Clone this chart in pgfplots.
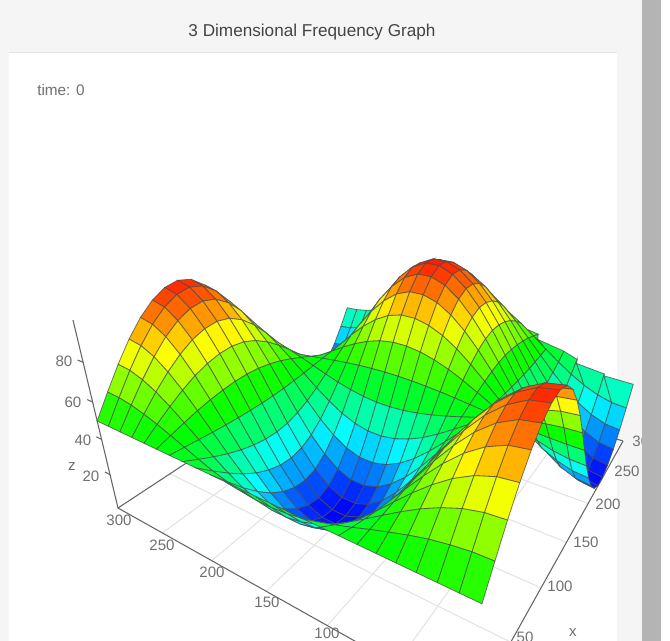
\documentclass[border=0pt]{standalone}
\usepackage{pgfplots}
\usepackage{pgfplotstable}
\usepackage{fontspec}
\setmainfont{Liberation Sans}
\pgfplotsset{compat=1.18}
\definecolor{bgc}{HTML}{F5F5F5}
\definecolor{borderc}{HTML}{E3E3E3}
\definecolor{titlec}{HTML}{444444}
\definecolor{labc}{HTML}{707070}
\definecolor{axc}{HTML}{666666}
\definecolor{gridc}{HTML}{E2E2E2}
\definecolor{barc}{HTML}{B4B4B4}
\tikzset{tl/.style={font=\fontsize{11.3pt}{13pt}\selectfont,text=labc,inner sep=0pt}}
\pgfplotsset{colormap={jetlike}{rgb255(0cm)=(0,0,255); rgb255(1cm)=(0,255,255); rgb255(2cm)=(0,255,0); rgb255(3cm)=(255,255,0); rgb255(4cm)=(255,0,0)}}
% camera: x/300, y/300, z/100 -> image pixels
\newcommand\pX[3]{((474+545.9*(#1)-308.8*(#2)-77.1*(#3))/(1+0.637*(#1)+0.40*(#2)-0.193*(#3)))}
\newcommand\pY[3]{((708+13.9*(#1)+3.2*(#2)-324.9*(#3))/(1+0.637*(#1)+0.40*(#2)-0.193*(#3)))}
\newcommand\seg[7]{\addplot[#1,forget plot] table[row sep=\\,
  x expr={\pX{\thisrow{x}/300}{\thisrow{y}/300}{\thisrow{z}/100}},
  y expr={\pY{\thisrow{x}/300}{\thisrow{y}/300}{\thisrow{z}/100}}]
  {x y z\\ #2 #3 #4\\ #5 #6 #7\\};}
% z on a 25 x 25 grid: rows y=300..0, within a row x=300..0
\pgfplotstableread[row sep=\\]{
z\\
37.0\\26.1\\16.4\\8.6\\3.2\\0.4\\0.4\\4.0\\11.0\\20.9\\32.9\\46.2\\59.8\\72.6\\83.8\\92.5\\98.0\\100.0\\98.9\\95.2\\89.3\\81.4\\71.9\\61.2\\50\\
37.5\\27.0\\17.6\\10.1\\4.9\\2.2\\2.2\\5.7\\12.4\\22.0\\33.5\\46.3\\59.4\\71.8\\82.5\\90.9\\96.2\\98.2\\97.1\\93.5\\87.8\\80.2\\71.1\\60.8\\50\\
38.9\\29.6\\21.3\\14.6\\10.0\\7.6\\7.6\\10.7\\16.7\\25.1\\35.4\\46.8\\58.4\\69.3\\78.9\\86.3\\91.0\\92.8\\91.8\\88.6\\83.6\\76.8\\68.7\\59.6\\50\\
41.1\\33.7\\27.1\\21.7\\18.0\\16.1\\16.1\\18.6\\23.4\\30.1\\38.3\\47.4\\56.7\\65.4\\73.1\\79.0\\82.8\\84.2\\83.4\\80.9\\76.8\\71.4\\65.0\\57.6\\50\\
44.0\\39.0\\34.5\\30.9\\28.4\\27.1\\27.1\\28.7\\32.0\\36.6\\42.1\\48.2\\54.5\\60.4\\65.6\\69.6\\72.2\\73.1\\72.6\\70.9\\68.2\\64.5\\60.1\\55.2\\50\\
47.3\\45.1\\43.1\\41.5\\40.4\\39.8\\39.8\\40.5\\42.0\\44.0\\46.5\\49.2\\52.0\\54.7\\57.0\\58.8\\59.9\\60.3\\60.1\\59.3\\58.1\\56.5\\54.5\\52.3\\50\\
50.9\\51.6\\52.2\\52.7\\53.1\\53.3\\53.3\\53.0\\52.6\\51.9\\51.1\\50.3\\49.4\\48.5\\47.8\\47.2\\46.8\\46.7\\46.8\\47.0\\47.4\\47.9\\48.6\\49.3\\50\\
54.4\\58.1\\61.4\\64.0\\65.9\\66.8\\66.8\\65.6\\63.2\\59.9\\55.8\\51.3\\46.7\\42.3\\38.5\\35.6\\33.7\\33.0\\33.4\\34.7\\36.7\\39.4\\42.6\\46.2\\50\\
57.6\\64.0\\69.7\\74.2\\77.4\\79.0\\79.0\\76.9\\72.8\\67.0\\60.0\\52.2\\44.3\\36.8\\30.2\\25.1\\21.9\\20.7\\21.4\\23.6\\27.0\\31.6\\37.2\\43.4\\50\\
60.2\\68.8\\76.5\\82.6\\86.9\\89.1\\89.1\\86.2\\80.7\\72.9\\63.5\\53.0\\42.3\\32.2\\23.4\\16.5\\12.2\\10.6\\11.5\\14.4\\19.0\\25.3\\32.7\\41.2\\50\\
62.1\\72.3\\81.3\\88.6\\93.7\\96.3\\96.3\\92.9\\86.4\\77.2\\66.0\\53.5\\40.9\\28.9\\18.5\\10.3\\5.2\\3.3\\4.4\\7.8\\13.3\\20.7\\29.6\\39.6\\50\\
63.1\\74.1\\83.9\\91.8\\97.3\\100.1\\100.1\\96.5\\89.4\\79.4\\67.3\\53.8\\40.1\\27.2\\15.9\\7.1\\1.5\\-0.5\\0.6\\4.3\\10.3\\18.3\\27.9\\38.7\\50\\
63.2\\74.2\\84.0\\91.9\\97.4\\100.2\\100.2\\96.6\\89.5\\79.5\\67.3\\53.8\\40.1\\27.1\\15.8\\6.9\\1.4\\-0.7\\0.5\\4.2\\10.2\\18.2\\27.8\\38.7\\50\\
62.4\\72.7\\81.9\\89.3\\94.5\\97.1\\97.1\\93.7\\87.1\\77.6\\66.2\\53.6\\40.7\\28.5\\17.9\\9.6\\4.4\\2.5\\3.5\\7.1\\12.7\\20.2\\29.2\\39.4\\50\\
60.8\\69.8\\77.8\\84.2\\88.7\\91.0\\91.0\\88.0\\82.3\\74.1\\64.1\\53.1\\41.9\\31.3\\22.0\\14.9\\10.3\\8.6\\9.6\\12.6\\17.5\\24.0\\31.9\\40.7\\50\\
58.5\\65.6\\71.9\\77.0\\80.6\\82.4\\82.4\\80.0\\75.5\\69.0\\61.2\\52.5\\43.6\\35.2\\27.9\\22.2\\18.7\\17.3\\18.1\\20.5\\24.3\\29.5\\35.7\\42.7\\50\\
55.7\\60.5\\64.7\\68.1\\70.5\\71.7\\71.7\\70.1\\67.1\\62.7\\57.5\\51.7\\45.7\\40.1\\35.2\\31.4\\29.0\\28.1\\28.6\\30.2\\32.8\\36.2\\40.4\\45.1\\50\\
52.5\\54.6\\56.5\\58.0\\59.0\\59.6\\59.6\\58.9\\57.5\\55.6\\53.3\\50.7\\48.1\\45.6\\43.5\\41.8\\40.7\\40.3\\40.6\\41.3\\42.4\\43.9\\45.8\\47.8\\50\\
49.2\\48.5\\48.0\\47.5\\47.1\\47.0\\47.0\\47.2\\47.6\\48.2\\49.0\\49.8\\50.6\\51.4\\52.1\\52.6\\52.9\\53.1\\53.0\\52.8\\52.4\\51.9\\51.3\\50.7\\50\\
46.0\\42.6\\39.7\\37.2\\35.6\\34.7\\34.7\\35.8\\38.0\\41.0\\44.7\\48.8\\53.0\\57.0\\60.4\\63.1\\64.8\\65.4\\65.1\\63.9\\62.1\\59.7\\56.7\\53.4\\50\\
43.1\\37.2\\32.1\\27.9\\25.0\\23.5\\23.5\\25.4\\29.2\\34.5\\40.9\\48.0\\55.2\\62.1\\68.0\\72.7\\75.6\\76.7\\76.1\\74.1\\71.0\\66.8\\61.7\\56.0\\50\\
40.5\\32.6\\25.5\\19.9\\15.9\\13.9\\13.9\\16.5\\21.6\\28.8\\37.6\\47.2\\57.1\\66.5\\74.6\\80.9\\84.9\\86.4\\85.6\\82.9\\78.6\\72.9\\65.9\\58.2\\50\\
38.6\\29.1\\20.6\\13.7\\9.0\\6.6\\6.6\\9.7\\15.8\\24.5\\35.0\\46.7\\58.6\\69.8\\79.6\\87.2\\92.0\\93.8\\92.8\\89.6\\84.4\\77.5\\69.2\\59.8\\50\\
37.4\\26.8\\17.4\\9.9\\4.7\\1.9\\1.9\\5.4\\12.2\\21.8\\33.4\\46.3\\59.5\\71.9\\82.8\\91.2\\96.5\\98.5\\97.4\\93.8\\88.1\\80.4\\71.2\\60.9\\50\\
37.0\\26.1\\16.4\\8.6\\3.2\\0.4\\0.4\\4.0\\11.0\\20.9\\32.9\\46.2\\59.8\\72.6\\83.8\\92.5\\98.0\\100.0\\98.9\\95.2\\89.3\\81.4\\71.9\\61.2\\50\\
}\surfdata
\begin{document}
\begin{tikzpicture}
\path[use as bounding box,clip] (0,0) rectangle (502.5pt,480.75pt);
\begin{axis}[at={(0,0)},anchor=south west,scale only axis,width=502.5pt,height=480.75pt,
  hide axis,xmin=0,xmax=670,ymin=0,ymax=641,y dir=reverse,clip=false,colormap name=jetlike,
  point meta min=0,point meta max=103]
% page
\fill[bgc] (axis cs:0,0) rectangle (axis cs:670,641);
\fill[white] (axis cs:9,52) rectangle (axis cs:617,641);
\fill[white] (axis cs:661,0) rectangle (axis cs:670,641);
\draw[borderc,line width=0.75pt] (axis cs:9,52.5) -- (axis cs:617,52.5);
\node[font=\fontsize{12.87pt}{15pt}\selectfont,text=titlec,inner sep=0pt] at (axis cs:312,32) {3 Dimensional Frequency Graph};
\node[font=\fontsize{11.5pt}{14pt}\selectfont,text=labc,inner sep=0pt,anchor=west] at (axis cs:37,90) {time: 0};
% floor grid
\seg{gridc,line width=.75pt}{50}{0}{0}{50}{300}{0}
\seg{gridc,line width=.75pt}{100}{0}{0}{100}{300}{0}
\seg{gridc,line width=.75pt}{150}{0}{0}{150}{300}{0}
\seg{gridc,line width=.75pt}{200}{0}{0}{200}{300}{0}
\seg{gridc,line width=.75pt}{250}{0}{0}{250}{300}{0}
\seg{gridc,line width=.75pt}{0}{50}{0}{300}{50}{0}
\seg{gridc,line width=.75pt}{0}{100}{0}{300}{100}{0}
\seg{gridc,line width=.75pt}{0}{150}{0}{300}{150}{0}
\seg{gridc,line width=.75pt}{0}{200}{0}{300}{200}{0}
\seg{gridc,line width=.75pt}{0}{250}{0}{300}{250}{0}
% axes
\seg{axc,line width=.8pt}{0}{0}{0}{0}{300}{0}
\seg{axc,line width=.8pt}{0}{0}{0}{300}{0}{0}
\seg{axc,line width=.8pt}{0}{300}{0}{300}{300}{0}
\seg{axc,line width=.8pt}{300}{0}{0}{300}{300}{0}
\seg{axc,line width=.8pt}{0}{300}{0}{0}{300}{100}
\seg{axc,line width=.8pt}{0}{300}{20}{0}{306}{20}
\seg{axc,line width=.8pt}{0}{300}{40}{0}{306}{40}
\seg{axc,line width=.8pt}{0}{300}{60}{0}{306}{60}
\seg{axc,line width=.8pt}{0}{300}{80}{0}{306}{80}
% tick labels
\node[tl] at (axis cs:64,361) {80};
\node[tl] at (axis cs:73,402) {60};
\node[tl] at (axis cs:83,440) {40};
\node[tl] at (axis cs:91,476) {20};
\node[tl] at (axis cs:72,467) {z};
\node[tl] at (axis cs:119,520) {300};
\node[tl] at (axis cs:162,545) {250};
\node[tl] at (axis cs:212,572) {200};
\node[tl] at (axis cs:267,602) {150};
\node[tl] at (axis cs:327,633) {100};
\node[tl] at (axis cs:525,637) {50};
\node[tl] at (axis cs:560,586) {100};
\node[tl] at (axis cs:586,542) {150};
\node[tl] at (axis cs:608,504) {200};
\node[tl] at (axis cs:627,471) {250};
\node[tl] at (axis cs:645,441) {300};
\node[tl] at (axis cs:573,633) {x};
% surface
\addplot[surf,shader=flat,draw=black!70,draw opacity=.75,line width=.6pt,mesh/rows=25,mesh/cols=25,forget plot,
  point meta=explicit]
  table[x index=0,y index=0,meta=z,
  x expr={\pX{(24-mod(\coordindex,25))/24}{(24-floor(\coordindex/25))/24}{\thisrow{z}/100}},
  y expr={\pY{(24-mod(\coordindex,25))/24}{(24-floor(\coordindex/25))/24}{\thisrow{z}/100}}]
  {\surfdata};
% scrollbar
\fill[barc] (axis cs:642,0) rectangle (axis cs:661,641);
\end{axis}
\end{tikzpicture}
\end{document}
